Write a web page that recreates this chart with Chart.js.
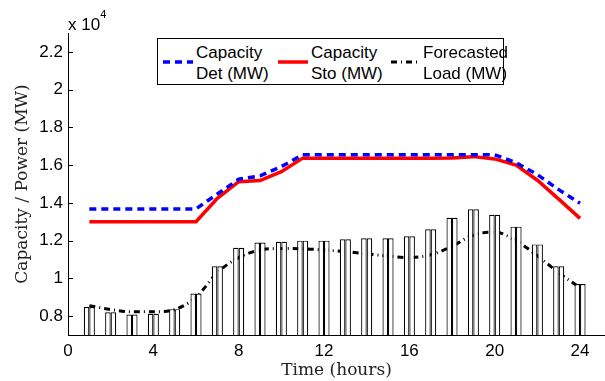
<!DOCTYPE html>
<html>
<head>
<meta charset="utf-8">
<script src="https://cdn.jsdelivr.net/npm/chart.js@4"></script>
<style>
  body { margin: 0; background: #fff; }
  #wrap { position: relative; width: 605px; height: 381px; }
  #legendBox {
    position: absolute; left: 157px; top: 38px; width: 347px; height: 47px;
    box-sizing: border-box; border: 1px solid #000; background: #fff;
    font-family: "Liberation Sans", Arial, sans-serif; font-size: 17px; color: #000;
  }
  #legendBox svg { position: absolute; top: 20px; }
  #legendBox .lbl { position: absolute; top: 3px; line-height: 21px; white-space: nowrap; }
  #expo {
    position: absolute; left: 68px; top: 14px; line-height: 20px;
    font-family: "Liberation Sans", Arial, sans-serif; font-size: 17px; color: #000;
  }
  #expo sup { font-size: 11px; vertical-align: 12px; line-height: 0; }
</style>
</head>
<body>
<div id="wrap">
  <canvas id="capChart"></canvas>
  <div id="expo">x 10<sup>4</sup></div>
  <div id="legendBox">
    <svg style="left:5px" width="30" height="6"><line x1="0" y1="3" x2="30" y2="3" stroke="#0000ff" stroke-width="3.5" stroke-dasharray="7,5"/></svg>
    <div class="lbl" style="left:38px">Capacity<br>Det (MW)</div>
    <svg style="left:120px" width="30" height="6"><line x1="0" y1="3" x2="30" y2="3" stroke="#ff0000" stroke-width="3.5"/></svg>
    <div class="lbl" style="left:153px">Capacity<br>Sto (MW)</div>
    <svg style="left:233px" width="28" height="6"><line x1="0" y1="3" x2="28" y2="3" stroke="#000" stroke-width="3" stroke-dasharray="6,4,1,4"/></svg>
    <div class="lbl" style="left:265px">Forecasted<br>Load (MW)</div>
  </div>
</div>
<script>
// hours of the day
const hours = [1, 2, 3, 4, 5, 6, 7, 8, 9, 10, 11, 12, 13, 14, 15, 16, 17, 18, 19, 20, 21, 22, 23, 24];

// capacity (deterministic / stochastic) in MW
const capacityDet = [13680, 13680, 13680, 13680, 13680, 13680, 14470, 15250, 15430, 15920,
                     16550, 16550, 16550, 16550, 16550, 16550, 16550, 16550, 16550, 16550,
                     16130, 15500, 14700, 13980];
const capacitySto = [13000, 13000, 13000, 13000, 13000, 13000, 14240, 15120, 15180, 15650,
                     16370, 16370, 16370, 16370, 16370, 16370, 16370, 16380, 16450, 16330,
                     16000, 15200, 14200, 13180];

// forecasted load (MW)
const forecastLoad = [8550, 8350, 8230, 8230, 8350, 9000, 10300, 11100, 11500, 11580,
                      11570, 11500, 11420, 11300, 11180, 11100, 11250, 11700, 12300, 12450,
                      12000, 11200, 10300, 9500];

// load bars (two bars per hour, same height)
const demandBars = [8480, 8200, 8090, 8120, 8370, 9200, 10640, 11620, 11900, 11940,
                    12000, 12000, 12070, 12120, 12120, 12230, 12600, 13210, 13660, 13370,
                    12740, 11800, 10640, 9700];

const xTicks = [0, 4, 8, 12, 16, 20, 24];
const yTicks = [8000, 10000, 12000, 14000, 16000, 18000, 20000, 22000];
const yTickLabels = ['0.8', '1', '1.2', '1.4', '1.6', '1.8', '2', '2.2'];

const pts = arr => hours.map((h, i) => ({ x: h, y: arr[i] }));

const tickFont = { family: 'Liberation Sans', size: 17 };
const titleFont = { family: 'DejaVu Serif', size: 17 };

// small inward tick marks on the y axis (matlab style)
const innerTicks = {
  id: 'innerTicks',
  afterDatasetsDraw(chart) {
    const { ctx, chartArea, scales } = chart;
    ctx.save();
    ctx.strokeStyle = '#000';
    ctx.lineWidth = 1;
    scales.y.ticks.forEach(t => {
      const py = Math.round(scales.y.getPixelForValue(t.value)) + 0.5;
      ctx.beginPath();
      ctx.moveTo(chartArea.left, py);
      ctx.lineTo(chartArea.left + 5, py);
      ctx.stroke();
    });
    ctx.restore();
  }
};

const barStyle = {
  type: 'bar',
  backgroundColor: '#ffffff',
  borderColor: '#000000',
  borderWidth: 1.2,
  borderSkipped: 'start',
  categoryPercentage: 0.52,
  barPercentage: 1.0,
  order: 0
};

new Chart(document.getElementById('capChart'), {
  type: 'bar',
  data: {
    datasets: [
      {
        type: 'line', label: 'Capacity Det (MW)', data: pts(capacityDet),
        borderColor: '#0000ff', borderWidth: 3.5, borderDash: [7, 5],
        pointRadius: 0, tension: 0, fill: false, order: 1
      },
      {
        type: 'line', label: 'Capacity Sto (MW)', data: pts(capacitySto),
        borderColor: '#ff0000', borderWidth: 3.5,
        pointRadius: 0, tension: 0, fill: false, order: 2
      },
      {
        type: 'line', label: 'Forecasted Load (MW)', data: pts(forecastLoad),
        borderColor: '#000000', borderWidth: 3, borderDash: [6, 4, 1, 4],
        pointRadius: 0, cubicInterpolationMode: 'monotone', fill: false, order: 3
      },
      Object.assign({ label: 'Load A', data: pts(demandBars) }, barStyle),
      Object.assign({ label: 'Load B', data: pts(demandBars) }, barStyle)
    ]
  },
  options: {
    responsive: true,
    maintainAspectRatio: false,
    animation: false,
    layout: { padding: { top: 33, left: 0, right: 0, bottom: 0 } },
    plugins: { legend: { display: false }, tooltip: { enabled: false } },
    scales: {
      x: {
        type: 'linear',
        min: 0,
        max: 25.17,
        offset: false,
        grid: { display: false, drawTicks: false, offset: false },
        border: { display: true, color: '#000', width: 1 },
        afterBuildTicks: s => { s.ticks = xTicks.map(v => ({ value: v })); },
        ticks: { font: tickFont, color: '#000', padding: 6, maxRotation: 0, autoSkip: false,
                 callback: v => String(v) },
        title: { display: true, text: 'Time (hours)', font: titleFont, color: '#222',
                 padding: { top: 0, bottom: 0 } },
        afterFit: s => { s.height = 46; }
      },
      y: {
        type: 'linear',
        min: 7000,
        max: 23000,
        beginAtZero: false,
        grid: { display: false, drawTicks: false },
        border: { display: true, color: '#000', width: 1 },
        afterBuildTicks: s => { s.ticks = yTicks.map(v => ({ value: v })); },
        ticks: { font: tickFont, color: '#000', padding: 5,
                 callback: (v, i) => yTickLabels[i] },
        title: { display: true, text: 'Capacity / Power (MW)', font: titleFont, color: '#222',
                 padding: { top: 12, bottom: 0 } },
        afterFit: s => { s.width = 68; }
      }
    }
  },
  plugins: [innerTicks]
});
</script>
</body>
</html>
